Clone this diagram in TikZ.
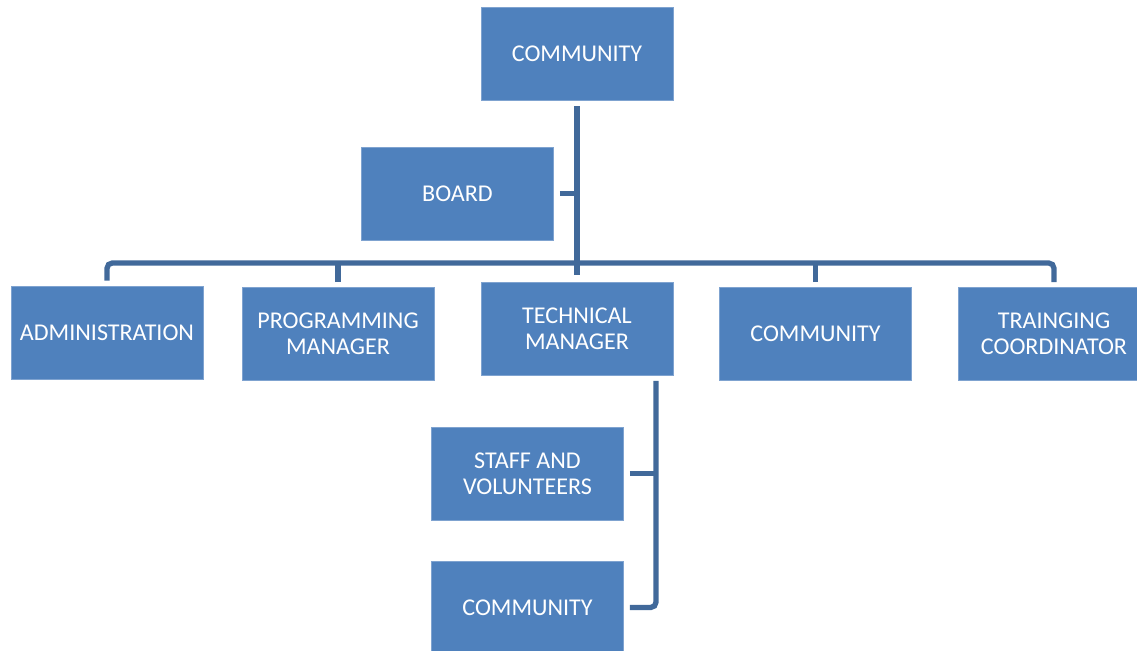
\documentclass[tikz,border=0pt]{standalone}
\usepackage{fontspec}
\setmainfont{Carlito}
\usepackage{xcolor}
\usepackage{tikz}
\usetikzlibrary{calc}
\definecolor{boxblue}{HTML}{4F81BD}
\definecolor{boxedge}{HTML}{7FA3D0}
\definecolor{linkblue}{HTML}{41699A}
\tikzset{ unit/.style = {rectangle, fill=boxblue, draw=boxedge, line width=0.5pt, text=white, align=center, minimum width=3.84cm, minimum height=1.86cm, font=\fontsize{13.7}{14.8}\selectfont} }
\tikzset{ link/.style = {draw=linkblue, line width=3pt} }

\begin{document}
\begin{tikzpicture}
            \useasboundingbox (0,0) rectangle (22.74,13.02);
            \begin{scope}
            \clip (0,0) rectangle (22.74,13.02);
            \node[unit] (top) at (11.54, 11.95) {COMMUNITY};
            \node[unit] (board) at (9.15, 9.15) {BOARD};
            \node[unit] (admin) at (2.14, 6.37) {ADMINISTRATION};
            \node[unit] (prog) at (6.76, 6.34) {PROGRAMMING\\MANAGER};
            \node[unit] (tech) at (11.54, 6.45) {TECHNICAL\\MANAGER};
            \node[unit] (commmid) at (16.31, 6.34) {COMMUNITY};
            \node[unit] (train) at (21.08, 6.34) {TRAINGING\\COORDINATOR};
            \node[unit] (staff) at (10.55, 3.55) {STAFF AND\\VOLUNTEERS};
            \node[unit] (commbot) at (10.55, 0.87) {COMMUNITY};
            \end{scope}
            % junctions
            \coordinate (bar) at (11.54, 7.76);
            \coordinate (spine) at (13.12, 5.40);
            % top level
            \draw[link] ([yshift=-0.12cm]top.south) -- ([yshift=0.14cm]tech.north);
            \draw[link] ([xshift=0.12cm]board.east) -- (board.east -| top.south);
            \draw[link, rounded corners=3pt] ($(admin.north)+(0,0.1)$) |- (bar) -| ($(train.north)+(0,0.1)$);
            \draw[link] ($(prog.north)+(0,0.1)$) -- (prog.north |- bar);
            \draw[link] ($(commmid.north)+(0,0.1)$) -- (commmid.north |- bar);
            % under the technical manager
            \draw[link, rounded corners=3pt] (spine) |- ([xshift=0.12cm]commbot.east);
            \draw[link] ([xshift=0.12cm]staff.east) -- (staff.east -| spine);
        \end{tikzpicture}
\end{document}
